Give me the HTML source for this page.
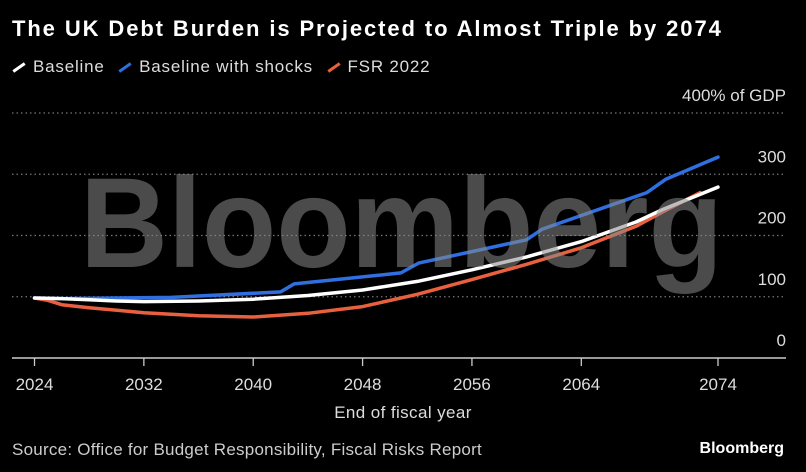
<!DOCTYPE html>
<html><head><meta charset="utf-8"><style>
html,body{margin:0;padding:0;background:#000;}
body{width:806px;height:472px;overflow:hidden;font-family:"Liberation Sans",sans-serif;color:#fff;position:relative;}
</style></head><body>
<div style="position:absolute;left:12px;top:16px;font-size:22px;font-weight:bold;letter-spacing:1.9px;">The UK Debt Burden is Projected to Almost Triple by 2074</div>
<div style="position:absolute;left:12px;top:57px;font-size:17px;color:#ddd;letter-spacing:0.8px;">
<span><span style="display:inline-block;width:14px;height:3px;background:#fff;transform:rotate(-35deg);vertical-align:middle;margin-right:7px"></span>Baseline</span>
<span style="margin-left:8px"><span style="display:inline-block;width:14px;height:3px;background:#2f6fe0;transform:rotate(-35deg);vertical-align:middle;margin-right:7px"></span>Baseline with shocks</span>
<span style="margin-left:8px"><span style="display:inline-block;width:14px;height:3px;background:#e8603e;transform:rotate(-35deg);vertical-align:middle;margin-right:7px"></span>FSR 2022</span>
</div>
<svg id="chart" width="806" height="472" style="position:absolute;left:0;top:0"></svg>
<div style="position:absolute;left:0;width:806px;text-align:center;top:403px;font-size:17px;color:#ddd;letter-spacing:0.4px;">End of fiscal year</div>
<div style="position:absolute;left:12px;top:440px;font-size:17px;color:#ccc;letter-spacing:0.25px;">Source: Office for Budget Responsibility, Fiscal Risks Report</div>
<div style="position:absolute;right:22px;top:440px;font-size:16px;font-weight:bold;">Bloomberg</div>
<script>
const yTicks=[100,200,300,400];
const yTickLabels=["100","200","300","400% of GDP"];
const xTicks=[2024,2032,2040,2048,2056,2064,2074];
const baselineYears=[2024,2026,2028,2030,2032,2036,2040,2044,2048,2052,2056,2060,2064,2068,2070,2074];
const baselineVals=[98,97,95,93,92,93,96,102,111,125,144,165,190,222,243,279];
const shockYears=[2024,2026,2034,2042,2043,2050.8,2052.1,2060,2061.1,2068.8,2070.2,2074];
const shockVals=[98,97,99,108,121,139,155,193,210,270,292,328];
const fsrYears=[2024,2025,2026,2028,2032,2036,2040,2044,2048,2052,2056,2060,2064,2068,2070,2072.7];
const fsrVals=[98,94,87,82,74,69,67,73,84,104,128,153,180,215,239,270];
const svg=document.getElementById('chart');
const NS='http://www.w3.org/2000/svg';
const x=yr=>34.5+(yr-2024)*(718-34.5)/50;
const y=v=>358-v*0.6125;
function mk(t,a){const e=document.createElementNS(NS,t);for(const k in a)e.setAttribute(k,a[k]);svg.appendChild(e);return e;}
const F='Liberation Sans, sans-serif';
yTicks.forEach((v,i)=>{
 const g=mk('line',{x1:12,x2:786,y1:y(v),y2:y(v),stroke:'#777','stroke-width':1.3,'stroke-dasharray':'1.5,3'});
 
 
 const t=mk('text',{x:786,y:y(v)-12,'text-anchor':'end',fill:'#ddd','font-size':17,'font-family':F});
 t.textContent=yTickLabels[i];
 
 
});
const z=mk('text',{x:786,y:y(0)-12,'text-anchor':'end',fill:'#ddd','font-size':17,'font-family':F});
z.textContent='0';


const ax=mk('line',{x1:12,x2:786,y1:358,y2:358,stroke:'#ccc','stroke-width':1.5});


xTicks.forEach(yr=>{
 const l=mk('line',{x1:x(yr),x2:x(yr),y1:358,y2:366,stroke:'#ccc','stroke-width':1.3});
 
 
 const t=mk('text',{x:x(yr),y:390,'text-anchor':'middle',fill:'#ddd','font-size':17,'font-family':F});
 t.textContent=yr;
 
 
});
function line(ys,vs,c,name){
 const p=mk('path',{d:ys.map((yr,i)=>(i?'L':'M')+x(yr).toFixed(1)+','+y(vs[i]).toFixed(1)).join(''),fill:'none',stroke:c,'stroke-width':3.5,'stroke-linejoin':'round','stroke-linecap':'round'});
 
 
}
line(fsrYears,fsrVals,'#e8603e','fsr-2022-line');
line(shockYears,shockVals,'#2f6fe0','baseline-with-shocks-line');
line(baselineYears,baselineVals,'#ffffff','baseline-line');
const w=mk('text',{x:80,y:267,fill:'#888','fill-opacity':0.55,'font-size':128,'font-weight':'bold','font-family':F,textLength:643,lengthAdjust:'spacingAndGlyphs'});
w.textContent='Bloomberg';


</script>
</body></html>
